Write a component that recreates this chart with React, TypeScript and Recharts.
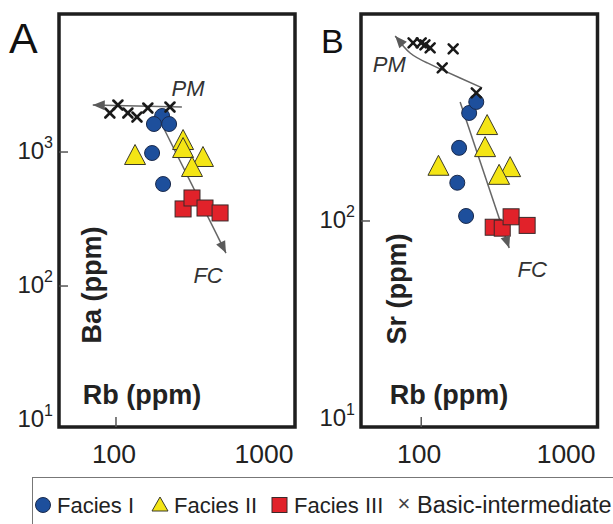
import {
  ComposedChart,
  Scatter,
  Line,
  XAxis,
  YAxis,
  ReferenceArea,
  ReferenceDot,
} from "recharts";

type Pt = { rb: number; ppm: number };

// ---- panel A: Ba vs Rb ----
const baFaciesI: Pt[] = [
  { rb: 203, ppm: 1857 },
  { rb: 179, ppm: 1618 },
  { rb: 226, ppm: 1618 },
  { rb: 174, ppm: 983 },
  { rb: 206, ppm: 577 },
];
const baFaciesII: Pt[] = [
  { rb: 134, ppm: 950 },
  { rb: 280, ppm: 1229 },
  { rb: 280, ppm: 1071 },
  { rb: 380, ppm: 918 },
  { rb: 321, ppm: 773 },
];
const baFaciesIII: Pt[] = [
  { rb: 280, ppm: 376 },
  { rb: 321, ppm: 454 },
  { rb: 392, ppm: 382 },
  { rb: 494, ppm: 351 },
];
const baBasic: Pt[] = [
  { rb: 91, ppm: 1954 },
  { rb: 103, ppm: 2243 },
  { rb: 120, ppm: 1954 },
  { rb: 138, ppm: 1824 },
  { rb: 163, ppm: 2130 },
  { rb: 229, ppm: 2166 },
];
const baPM: Pt[] = [
  { rb: 275, ppm: 2166 },
  { rb: 70, ppm: 2243 },
];
const baFC: Pt[] = [
  { rb: 188, ppm: 1888 },
  { rb: 541, ppm: 176 },
];

// ---- panel B: Sr vs Rb ----
const srFaciesI: Pt[] = [
  { rb: 212, ppm: 351 },
  { rb: 237, ppm: 399 },
  { rb: 181, ppm: 234 },
  { rb: 176, ppm: 156 },
  { rb: 202, ppm: 106 },
];
const srFaciesII: Pt[] = [
  { rb: 281, ppm: 305 },
  { rb: 272, ppm: 236 },
  { rb: 131, ppm: 190 },
  { rb: 403, ppm: 187 },
  { rb: 339, ppm: 171 },
];
const srFaciesIII: Pt[] = [
  { rb: 309, ppm: 93 },
  { rb: 356, ppm: 92 },
  { rb: 409, ppm: 105 },
  { rb: 526, ppm: 95 },
];
const srBasic: Pt[] = [
  { rb: 88, ppm: 793 },
  { rb: 100, ppm: 793 },
  { rb: 106, ppm: 774 },
  { rb: 115, ppm: 748 },
  { rb: 165, ppm: 739 },
  { rb: 139, ppm: 593 },
  { rb: 237, ppm: 443 },
];
const srPM: Pt[] = [
  { rb: 260, ppm: 470 },
  { rb: 184, ppm: 527 },
  { rb: 139, ppm: 579 },
  { rb: 110, ppm: 628 },
  { rb: 84, ppm: 705 },
  { rb: 66.5, ppm: 859 },
];
const srFC: Pt[] = [
  { rb: 184, ppm: 399 },
  { rb: 397, ppm: 73 },
];

const rbTicks = [100, 1000];
const baTicks = [10, 100, 1000];
const srTicks = [10, 100];

const FONT = "'Liberation Sans', Arial, Helvetica, sans-serif";
const BLUE = "#1d4f9c";
const YELLOW = "#f4e515";
const RED = "#e1222a";

const circleShape = (p: any) => (
  <circle cx={p.cx} cy={p.cy} r={7.5} fill={BLUE} stroke="#1a2a4c" strokeWidth={1} />
);
const triangleShape = (p: any) => (
  <polygon
    points={`${p.cx},${p.cy - 10.5} ${p.cx - 10.5},${p.cy + 9.5} ${p.cx + 10.5},${p.cy + 9.5}`}
    fill={YELLOW}
    stroke="#3b3a2a"
    strokeWidth={1}
  />
);
const squareShape = (p: any) => (
  <rect x={p.cx - 8} y={p.cy - 8} width={16} height={16} fill={RED} stroke="#3a2a2a" strokeWidth={1} />
);
const crossShape = (p: any) => (
  <g stroke="#1a1a1a" strokeWidth={2.6} strokeLinecap="round">
    <line x1={p.cx - 4.5} y1={p.cy - 4.5} x2={p.cx + 4.5} y2={p.cy + 4.5} />
    <line x1={p.cx - 4.5} y1={p.cy + 4.5} x2={p.cx + 4.5} y2={p.cy - 4.5} />
  </g>
);

// arrow head on the last point of a line
const arrowDot = (p: any) => {
  const { index, points, cx, cy } = p;
  if (!points || index !== points.length - 1) return <g key={`dot-${index}`} />;
  const prev = points[index - 1];
  const a = Math.atan2(cy - prev.y, cx - prev.x);
  const len = 12;
  const hw = 5;
  const bx = cx - len * Math.cos(a);
  const by = cy - len * Math.sin(a);
  const px = -Math.sin(a) * hw;
  const py = Math.cos(a) * hw;
  return (
    <polygon
      key={`dot-${index}`}
      points={`${cx},${cy} ${bx + px},${by + py} ${bx - px},${by - py}`}
      fill="#5a5a5a"
    />
  );
};

interface PanelProps {
  left: number;
  width: number;
  plotLeft: number;
  plotRight: number;
  xDomain: [number, number];
  yDomain: [number, number];
  yTicks: number[];
  yTitle: string;
  yTitleX: number;
  yTitleY: number;
  xTitleX: number;
  faciesI: Pt[];
  faciesII: Pt[];
  faciesIII: Pt[];
  basic: Pt[];
  pm: Pt[];
  fc: Pt[];
  pmLabel: Pt;
  fcLabel: Pt;
  pmType: "linear" | "natural";
}

const HEIGHT = 470;
const PLOT_TOP = 14;
const PLOT_BOTTOM = 427;

function Panel(props: PanelProps) {
  const left = props.plotLeft;
  const plotBottom = PLOT_BOTTOM;
  // axes are 1px wide/high so recharts still draws them
  const margin = {
    top: PLOT_TOP,
    right: props.width - props.plotRight,
    bottom: HEIGHT - PLOT_BOTTOM - 1,
    left: left - 1,
  };

  const yTick = (p: any) => {
    const v = p.payload.value;
    const exp = Math.round(Math.log10(v));
    return (
      <g>
        {v > 10 && <line x1={left} x2={left + 9} y1={p.y} y2={p.y} stroke="#555" strokeWidth={1.5} />}
        <text x={left - 6} y={p.y + 7} textAnchor="end" fill="#222" fontFamily={FONT}>
          <tspan fontSize={24}>10</tspan>
          <tspan fontSize={16} dy={-11}>
            {exp}
          </tspan>
        </text>
      </g>
    );
  };

  const xTick = (p: any) => {
    const v = p.payload.value;
    return (
      <g>
        {v === 100 && (
          <line x1={p.x} x2={p.x} y1={plotBottom} y2={plotBottom - 10} stroke="#555" strokeWidth={1.5} />
        )}
        <text x={p.x - 2} y={plotBottom + 36} textAnchor="middle" fill="#222" fontSize={26.5} fontFamily={FONT}>
          {v}
        </text>
      </g>
    );
  };

  const annot = (text: string) => (p: any) => {
    const vb = p.viewBox;
    return (
      <text
        x={vb.x + vb.width / 2}
        y={vb.y + vb.height / 2 + 8}
        textAnchor="middle"
        fontSize={22}
        fontStyle="italic"
        fill="#333"
        fontFamily={FONT}
      >
        {text}
      </text>
    );
  };

  return (
    <div style={{ position: "absolute", left: props.left, top: 0 }}>
      <ComposedChart width={props.width} height={HEIGHT} margin={margin}>
        <XAxis
          dataKey="rb"
          type="number"
          scale="log"
          domain={props.xDomain}
          allowDataOverflow
          ticks={rbTicks}
          interval={0}
          height={1}
          axisLine={false}
          tickLine={false}
          tick={xTick}
          label={() => (
            <text
              x={props.xTitleX}
              y={plotBottom - 23}
              textAnchor="middle"
              fontSize={27}
              fontWeight="bold"
              fill="#222"
              fontFamily={FONT}
            >
              Rb (ppm)
            </text>
          )}
        />
        <YAxis
          dataKey="ppm"
          type="number"
          scale="log"
          domain={props.yDomain}
          allowDataOverflow
          ticks={props.yTicks}
          interval={0}
          width={1}
          axisLine={false}
          tickLine={false}
          tick={yTick}
          label={() => (
            <text
              x={props.yTitleX}
              y={props.yTitleY}
              transform={`rotate(-90 ${props.yTitleX} ${props.yTitleY})`}
              textAnchor="middle"
              fontSize={27}
              fontWeight="bold"
              fill="#222"
              fontFamily={FONT}
            >
              {props.yTitle}
            </text>
          )}
        />
        <ReferenceArea
          x1={props.xDomain[0]}
          x2={props.xDomain[1]}
          y1={props.yDomain[0]}
          y2={props.yDomain[1]}
          fill="none"
          fillOpacity={0}
          stroke="#1e1e1e"
          strokeWidth={3.5}
        />
        <Scatter name="Facies I" data={props.faciesI} shape={circleShape} isAnimationActive={false} />
        <Scatter name="Facies II" data={props.faciesII} shape={triangleShape} isAnimationActive={false} />
        <Scatter name="Facies III" data={props.faciesIII} shape={squareShape} isAnimationActive={false} />
        <Scatter name="Basic-intermediate" data={props.basic} shape={crossShape} isAnimationActive={false} />
        <Line
          data={props.pm}
          dataKey="ppm"
          type={props.pmType}
          stroke="#666"
          strokeWidth={1.5}
          dot={arrowDot}
          activeDot={false}
          isAnimationActive={false}
        />
        <Line
          data={props.fc}
          dataKey="ppm"
          type="linear"
          stroke="#666"
          strokeWidth={1.5}
          dot={arrowDot}
          activeDot={false}
          isAnimationActive={false}
        />
        <ReferenceDot x={props.pmLabel.rb} y={props.pmLabel.ppm} r={1} fill="none" stroke="none" label={annot("PM")} />
        <ReferenceDot x={props.fcLabel.rb} y={props.fcLabel.ppm} r={1} fill="none" stroke="none" label={annot("FC")} />
      </ComposedChart>
    </div>
  );
}

export default function App() {
  return (
    <div
      style={{
        position: "absolute",
        left: 0,
        top: 0,
        width: 613,
        height: 524,
        overflow: "hidden",
        background: "#fff",
        fontFamily: FONT,
      }}
    >
      <Panel
        left={0}
        width={300}
        plotLeft={59}
        plotRight={295}
        xDomain={[41.7, 1560]}
        yDomain={[8.87, 10715]}
        yTicks={baTicks}
        yTitle="Ba (ppm)"
        yTitleX={101}
        yTitleY={285}
        xTitleX={142}
        faciesI={baFaciesI}
        faciesII={baFaciesII}
        faciesIII={baFaciesIII}
        basic={baBasic}
        pm={baPM}
        fc={baFC}
        pmLabel={{ rb: 302, ppm: 3003 }}
        fcLabel={{ rb: 411, ppm: 121 }}
        pmType="linear"
      />
      <Panel
        left={300}
        width={313}
        plotLeft={61}
        plotRight={297.5}
        xDomain={[38.9, 1585]}
        yDomain={[9.12, 1109]}
        yTicks={srTicks}
        yTitle="Sr (ppm)"
        yTitleX={106}
        yTitleY={289}
        xTitleX={149}
        faciesI={srFaciesI}
        faciesII={srFaciesII}
        faciesIII={srFaciesIII}
        basic={srBasic}
        pm={srPM}
        fc={srFC}
        pmLabel={{ rb: 60.6, ppm: 623 }}
        fcLabel={{ rb: 569, ppm: 57 }}
        pmType="natural"
      />
      <svg
        width={613}
        height={524}
        style={{ position: "absolute", left: 0, top: 0, pointerEvents: "none" }}
        fontFamily={FONT}
      >
        <text x={9} y={53} fontSize={43} fill="#111">
          A
        </text>
        <text x={321} y={53} fontSize={34} fill="#111">
          B
        </text>
        <rect x={32.5} y={477.5} width={700} height={100} fill="none" stroke="#777" strokeWidth={1} />
        <circle cx={43} cy={505} r={7.5} fill={BLUE} stroke="#1a2a4c" />
        <text x={57} y={513} fontSize={22} fill="#222">
          Facies I
        </text>
        <polygon points="160,497 152,511 168,511" fill={YELLOW} stroke="#3b3a2a" />
        <text x={174} y={513} fontSize={22} fill="#222">
          Facies II
        </text>
        <rect x={272} y={497.5} width={15} height={15} fill={RED} stroke="#3a2a2a" />
        <text x={294} y={513} fontSize={22} fill="#222">
          Facies III
        </text>
        <text x={404} y={511} fontSize={22} fill="#444" textAnchor="middle">
          ×
        </text>
        <text x={417} y={513} fontSize={23.5} fill="#222">
          Basic-intermediate
        </text>
      </svg>
    </div>
  );
}
